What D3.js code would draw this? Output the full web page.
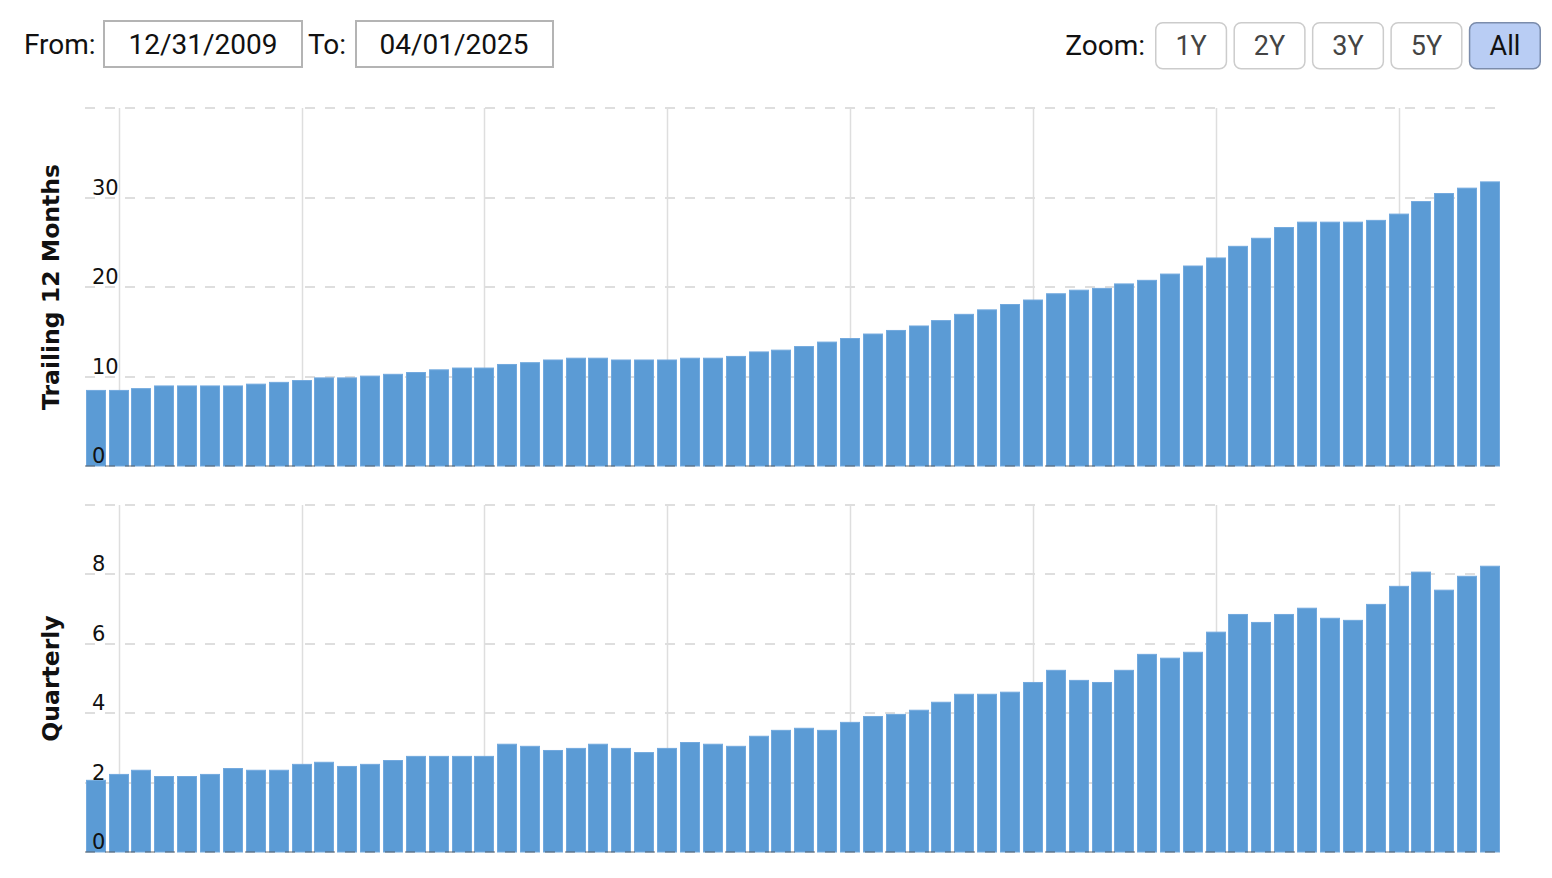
<!DOCTYPE html>
<html>
<head>
<meta charset="utf-8">
<script src="https://cdn.jsdelivr.net/npm/d3@7"></script>
<style>
  html, body { margin: 0; padding: 0; background: #fff; }
  svg { display: block; }
</style>
</head>
<body>
<svg id="chart" width="1552" height="878"></svg>
<script>
// ---------- data ----------
const quarterDates = [
  "2009-12-31","2010-03-31","2010-06-30","2010-09-30","2010-12-31",
  "2011-03-31","2011-06-30","2011-09-30","2011-12-31",
  "2012-03-31","2012-06-30","2012-09-30","2012-12-31",
  "2013-03-31","2013-06-30","2013-09-30","2013-12-31",
  "2014-03-31","2014-06-30","2014-09-30","2014-12-31",
  "2015-03-31","2015-06-30","2015-09-30","2015-12-31",
  "2016-03-31","2016-06-30","2016-09-30","2016-12-31",
  "2017-03-31","2017-06-30","2017-09-30","2017-12-31",
  "2018-03-31","2018-06-30","2018-09-30","2018-12-31",
  "2019-03-31","2019-06-30","2019-09-30","2019-12-31",
  "2020-03-31","2020-06-30","2020-09-30","2020-12-31",
  "2021-03-31","2021-06-30","2021-09-30","2021-12-31",
  "2022-03-31","2022-06-30","2022-09-30","2022-12-31",
  "2023-03-31","2023-06-30","2023-09-30","2023-12-31",
  "2024-03-31","2024-06-30","2024-09-30","2024-12-31",
  "2025-03-31"
];
const ttmValues = [
  8.5, 8.5, 8.7, 9.0, 9.0, 9.0, 9.0, 9.2, 9.4, 9.6,
  9.9, 9.9, 10.1, 10.3, 10.5, 10.8, 11.0, 11.0, 11.4, 11.6,
  11.9, 12.1, 12.1, 11.9, 11.9, 11.9, 12.1, 12.1, 12.3, 12.8,
  13.0, 13.4, 13.9, 14.3, 14.8, 15.2, 15.7, 16.3, 17.0, 17.5,
  18.1, 18.6, 19.3, 19.7, 19.9, 20.4, 20.8, 21.5, 22.4, 23.3,
  24.6, 25.5, 26.7, 27.3, 27.3, 27.3, 27.5, 28.2, 29.6, 30.5,
  31.1, 31.8
];
const quarterlyValues = [
  2.08, 2.25, 2.37, 2.19, 2.19, 2.25, 2.42, 2.37, 2.37, 2.54,
  2.60, 2.48, 2.54, 2.65, 2.77, 2.77, 2.77, 2.77, 3.12, 3.06,
  2.94, 3.00, 3.12, 3.00, 2.88, 3.00, 3.17, 3.12, 3.06, 3.35,
  3.52, 3.58, 3.52, 3.75, 3.92, 3.98, 4.10, 4.33, 4.56, 4.56,
  4.62, 4.90, 5.25, 4.96, 4.90, 5.25, 5.71, 5.60, 5.77, 6.35,
  6.86, 6.63, 6.86, 7.04, 6.75, 6.69, 7.15, 7.67, 8.08, 7.56,
  7.96, 8.25
];
const ttmTickLabels = [0, 10, 20, 30];
const ttmGridValues = [0, 10, 20, 30, 40];
const qTickLabels = [0, 2, 4, 6, 8];
const qGridValues = [0, 2, 4, 6, 8, 10];
const verticalGridDates = ["2010-04-01","2012-04-01","2014-04-01","2016-04-01",
                           "2018-04-01","2020-04-01","2022-04-01","2024-04-01"];
const zoomButtons = ["1Y", "2Y", "3Y", "5Y", "All"];
const fromLabel = "12/31/2009";
const toLabel = "04/01/2025";

// ---------- setup ----------
const parse = d3.timeParse("%Y-%m-%d");
const dates = quarterDates.map(parse);
const svg = d3.select("#chart");

const plotLeft = 85, plotRight = 1500;
const x = d3.scaleTime()
  .domain([dates[0], dates[dates.length - 1]])
  .range([96, 1490]);

const BAR_COLOR = "#5b9bd5";
const GRID_COLOR = "#dedede";

// ---------- header ----------
const header = svg.append("g").attr("font-family", "Roboto, sans-serif");
header.append("text").attr("x", 24).attr("y", 54).attr("font-size", 28).attr("fill", "#111").text("From:");
header.append("rect").attr("x", 104).attr("y", 21).attr("width", 198).attr("height", 46)
  .attr("fill", "#fff").attr("stroke", "#b4b4b4").attr("stroke-width", 2);
header.append("text").attr("x", 203).attr("y", 54).attr("text-anchor", "middle")
  .attr("font-size", 28).attr("fill", "#111").text(fromLabel);
header.append("text").attr("x", 308).attr("y", 54).attr("font-size", 28).attr("fill", "#111").text("To:");
header.append("rect").attr("x", 356).attr("y", 21).attr("width", 197).attr("height", 46)
  .attr("fill", "#fff").attr("stroke", "#b4b4b4").attr("stroke-width", 2);
header.append("text").attr("x", 454).attr("y", 54).attr("text-anchor", "middle")
  .attr("font-size", 28).attr("fill", "#111").text(toLabel);

header.append("text").attr("x", 1145).attr("y", 55).attr("text-anchor", "end")
  .attr("font-size", 28).attr("fill", "#111").text("Zoom:");
const btnX = d3.scaleBand().domain(zoomButtons).range([1155, 1541]).paddingInner(0.08).paddingOuter(0);
const btn = header.selectAll("g.btn").data(zoomButtons).join("g").attr("class", "btn");
btn.append("rect")
  .attr("x", d => btnX(d) + 0.75).attr("y", 22.75)
  .attr("width", btnX.bandwidth() - 1.5).attr("height", 46)
  .attr("rx", 7).attr("ry", 7)
  .attr("fill", d => d === "All" ? "#b9cdf4" : "#fff")
  .attr("stroke", d => d === "All" ? "#7b8cab" : "#cccccc")
  .attr("stroke-width", 1.5);
btn.append("text")
  .attr("x", d => btnX(d) + btnX.bandwidth() / 2).attr("y", 55)
  .attr("text-anchor", "middle").attr("font-size", 27)
  .attr("fill", d => d === "All" ? "#111" : "#444")
  .text(d => d);

// ---------- panel drawer ----------
function drawPanel(cfg) {
  const y = d3.scaleLinear().domain(cfg.domain).range([cfg.bottom, cfg.top]);
  const g = svg.append("g");
  const clipId = "clip-" + cfg.id;
  svg.append("clipPath").attr("id", clipId).append("rect")
    .attr("x", 86).attr("y", cfg.top - 2).attr("width", plotRight - 86).attr("height", cfg.bottom - cfg.top + 4);

  // horizontal dashed gridlines (behind bars)
  g.selectAll("line.hgrid").data(cfg.grid.filter(v => v !== 0)).join("line")
    .attr("x1", plotLeft).attr("x2", 1497)
    .attr("y1", d => Math.round(y(d))).attr("y2", d => Math.round(y(d)))
    .attr("stroke", GRID_COLOR).attr("stroke-width", 2).attr("stroke-dasharray", "10,10");

  // vertical solid gridlines
  g.selectAll("line.vgrid").data(verticalGridDates.map(parse)).join("line")
    .attr("x1", d => Math.round(x(d)) + 0.5).attr("x2", d => Math.round(x(d)) + 0.5)
    .attr("y1", cfg.top).attr("y2", cfg.bottom)
    .attr("stroke", GRID_COLOR).attr("stroke-width", 1.5);

  // bars
  g.append("g").attr("clip-path", `url(#${clipId})`)
    .selectAll("rect").data(cfg.values).join("rect")
    .attr("x", (d, i) => Math.round(x(dates[i])) - 10 + 0.5)
    .attr("width", 19)
    .attr("y", d => y(d) + 0.5)
    .attr("height", d => cfg.bottom - y(d) - 0.5)
    .attr("fill", BAR_COLOR)
    .attr("stroke", "#72a9de").attr("stroke-width", 1);

  // zero baseline (dashed, over bars)
  g.append("line")
    .attr("x1", plotLeft).attr("x2", 1497)
    .attr("y1", y(0)).attr("y2", y(0))
    .attr("stroke", "rgba(70,70,70,0.4)").attr("stroke-width", 2).attr("stroke-dasharray", "10,10");

  // tick labels inside the plot
  const axis = d3.axisLeft(y).tickValues(cfg.ticks).tickSize(0).tickFormat(d3.format("d"));
  const ag = g.append("g").attr("transform", "translate(92,0)").call(axis);
  ag.select(".domain").remove();
  ag.attr("font-size", null).attr("font-family", null);
  ag.selectAll(".tick").attr("transform", d => `translate(0,${y(d) - 3})`);
  ag.selectAll(".tick text")
    .attr("x", 0).attr("y", 0).attr("dy", 0).attr("text-anchor", "start")
    .attr("font-family", "'DejaVu Sans', Verdana, sans-serif")
    .attr("font-size", 21).attr("fill", "#111");

  // axis title
  g.append("text")
    .attr("transform", `translate(59,${(cfg.top + cfg.bottom) / 2}) rotate(-90)`)
    .attr("text-anchor", "middle")
    .attr("font-family", "'DejaVu Sans', Verdana, sans-serif")
    .attr("font-weight", "bold").attr("font-size", 23.5).attr("fill", "#111")
    .text(cfg.title);
}

drawPanel({ id: "ttm", values: ttmValues, domain: [0, 40], top: 108, bottom: 466,
            grid: ttmGridValues, ticks: ttmTickLabels, title: "Trailing 12 Months" });
drawPanel({ id: "q", values: quarterlyValues, domain: [0, 10], top: 505, bottom: 852,
            grid: qGridValues, ticks: qTickLabels, title: "Quarterly" });
</script>
</body>
</html>
